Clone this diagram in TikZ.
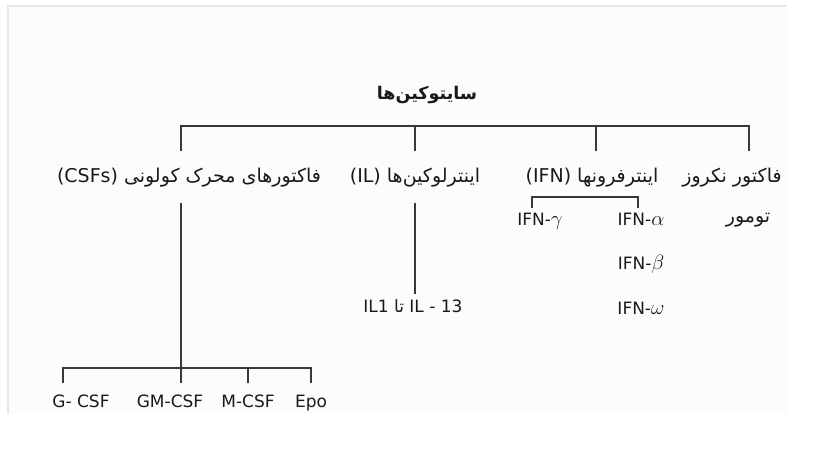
\documentclass[tikz,border=0pt]{standalone}
\usepackage{fontspec}
\setmainfont{DejaVu Sans}
\newfontfamily\farsi[Script=Arabic]{DejaVu Sans}
\TeXXeTstate=1
\newcommand{\grk}[1]{{\fontsize{21}{23}\selectfont$#1$}}
\usetikzlibrary{positioning}

\begin{document}
\begin{tikzpicture}[x=1pt, y=-1pt, node distance=44.5pt, on grid,
   link/.style={draw=black!78, line width=1.3pt},
   lbl/.style={text=black!90, inner sep=0pt, anchor=base, text height=12pt, text depth=3pt,
               font=\fontsize{17}{19}\selectfont},
   fa/.style={lbl, font=\farsi\fontsize{19}{21}\selectfont, text height=14pt, text depth=4pt, outer sep=17pt},
   sub/.style={lbl, outer sep=5pt},
   leaf/.style={lbl, outer sep=12pt}]
   \useasboundingbox (0,0) rectangle (820,463);
   % page frame
   \fill[black!1] (8,6) rectangle (787,414);
   \draw[black!9, line width=1.5pt] (8,414) -- (8,6) -- (787,6);

   % root
   \node[lbl, font=\farsi\bfseries\fontsize{17.5}{19}\selectfont] (cyto) at (427,99) {\beginR سایتوکین^^^^200cها\endR};

   % first level
   \node[fa] (csf) at (189,182) {\beginR فاکتورهای محرک کولونی \beginL(CSFs)\endL\endR};
   \node[fa] (il) at (415,182) {\beginR اینترلوکین^^^^200cها \beginL(IL)\endL\endR};
   \node[fa] (ifn) at (592,182) {\beginR اینترفرونها \beginL(IFN)\endL\endR};
   \node[fa] (tnf) at (732,182) {\beginR فاکتور نکروز\endR};
   \node[fa] (tnf_2) at (748,222) {\beginR تومور\endR};

   % interferons
   \node[sub] (ifn_g) at (540,225) {IFN-\grk{\gamma}};
   \node[sub] (ifn_a) at (641,225) {IFN-\grk{\alpha}};
   \node[sub] (ifn_b) [below=of ifn_a] {IFN-\grk{\beta}};
   \node[sub] (ifn_w) [below=of ifn_b] {IFN-\grk{\omega}};

   % interleukins
   \node[lbl, outer sep=6pt] (il_r) at (413,312) {IL1 \beginR{\farsi تا}\endR{} IL - 13};

   % colony stimulating factors
   \node[leaf] (g_csf) at (81,407) {G- CSF};
   \node[leaf] (gm_csf) at (170,407) {GM-CSF};
   \node[leaf] (m_csf) at (248,407) {M-CSF};
   \node[leaf] (epo) at (311,407) {Epo};

   \coordinate (j_csf) at (181,126);
   \coordinate (j_tnf) at (749,126);
   \coordinate (j_ifn) at (0,197);
   \coordinate (k_csf) at (181,368);

   % top bar
   \draw[link] (j_csf |- csf.north) |- (j_tnf) -- (j_tnf |- tnf.north);
   \draw[link] (il.north) -- (il.north |- j_csf);
   \draw[link] ([xshift=4pt]ifn.north) -- ([xshift=4pt]ifn.north |- j_csf);

   % IFN bracket
   \draw[link] ([xshift=-8pt]ifn_g.north) |- ([xshift=-3pt]ifn_a.north |- j_ifn) -- ([xshift=-3pt]ifn_a.north);

   % IL line
   \draw[link] (il.south) -- (il.south |- il_r.north);

   % CSF branch
   \draw[link] (csf.south -| j_csf) -- (j_csf |- gm_csf.north);
   \draw[link] ([xshift=-18pt]g_csf.north) |- (k_csf) -| (epo.north);
   \draw[link] (m_csf.north) -- (m_csf.north |- k_csf);
\end{tikzpicture}
\end{document}
